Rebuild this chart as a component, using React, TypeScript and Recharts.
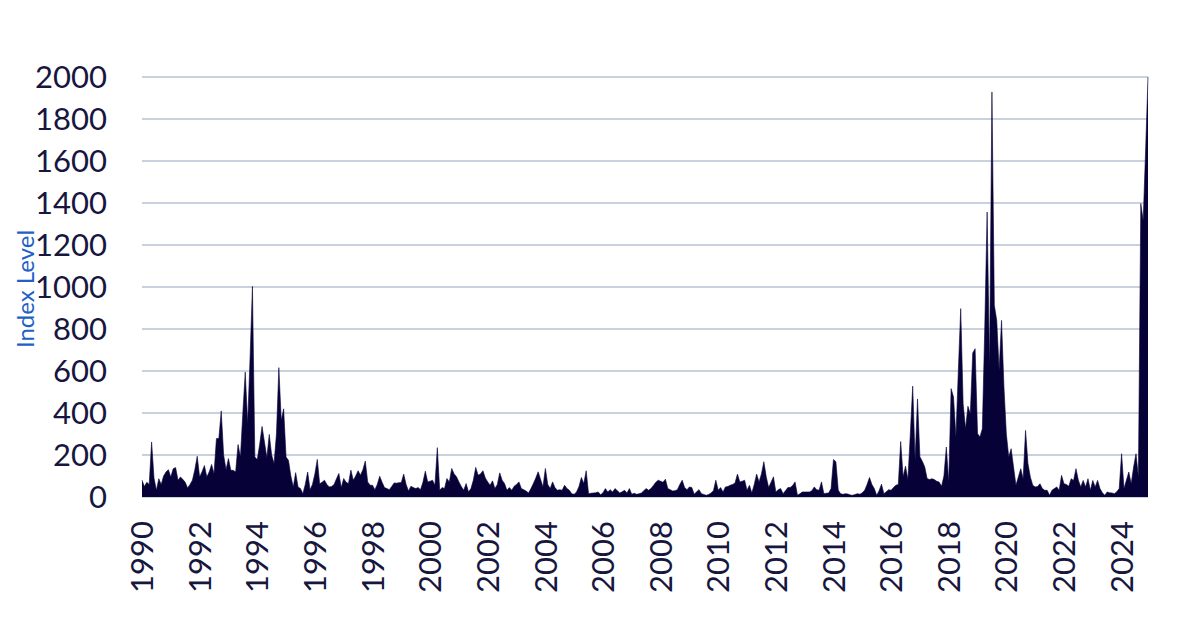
import { Area, AreaChart, CartesianGrid, XAxis, YAxis } from 'recharts'

// monthly index level, Jan..Dec, one row per year
const level1990s = [
  80, 50, 70, 60, 262, 90, 32, 87, 60, 100, 119, 130, // 1990
  95, 135, 140, 80, 95, 84, 70, 43, 60, 80, 130, 194, // 1991
  95, 120, 150, 95, 120, 155, 111, 278, 278, 410, 200, 130, // 1992
  183, 127, 127, 119, 250, 190, 400, 595, 349, 660, 1003, 190, // 1993
  178, 250, 336, 262, 187, 298, 200, 159, 300, 616, 365, 420, // 1994
]
const level1995s = [
  190, 175, 100, 48, 116, 48, 40, 16, 60, 119, 35, 60, // 1995
  110, 179, 63, 70, 80, 60, 48, 50, 60, 87, 112, 45, // 1996
  88, 70, 64, 128, 80, 100, 125, 104, 130, 171, 72, 56, // 1997
  56, 35, 60, 99, 70, 45, 40, 35, 50, 67, 66, 68, // 1998
  69, 109, 60, 29, 51, 45, 40, 45, 35, 70, 123, 72, // 1999
]
const level2000s = [
  75, 80, 56, 235, 32, 45, 40, 88, 72, 136, 110, 96, // 2000
  72, 50, 32, 64, 24, 40, 80, 141, 104, 110, 125, 90, // 2001
  72, 56, 77, 40, 60, 115, 80, 64, 32, 45, 32, 51, // 2002
  60, 72, 40, 35, 28, 19, 40, 64, 90, 120, 85, 48, // 2003
  136, 60, 40, 72, 45, 32, 35, 32, 56, 40, 32, 15, // 2004
]
const level2005s = [
  13, 24, 50, 93, 64, 125, 16, 18, 19, 20, 24, 11, // 2005
  20, 40, 24, 35, 24, 40, 30, 19, 25, 32, 19, 40, // 2006
  13, 18, 13, 15, 19, 30, 40, 32, 40, 55, 70, 80, // 2007
  75, 70, 85, 40, 35, 29, 30, 35, 60, 80, 45, 35, // 2008
  48, 45, 13, 25, 35, 16, 12, 8, 12, 19, 30, 80, // 2009
]
const level2010s = [
  32, 45, 24, 48, 50, 56, 60, 67, 109, 72, 75, 80, // 2010
  32, 56, 19, 60, 109, 72, 110, 168, 96, 45, 70, 96, // 2011
  24, 35, 40, 16, 30, 45, 45, 55, 72, 8, 15, 24, // 2012
  24, 24, 24, 30, 48, 35, 32, 72, 16, 18, 19, 40, // 2013
  179, 168, 32, 15, 13, 16, 14, 10, 8, 12, 16, 13, // 2014
]
const level2015s = [
  20, 32, 60, 93, 60, 40, 8, 30, 61, 16, 25, 35, // 2015
  32, 45, 56, 60, 264, 96, 147, 83, 300, 528, 176, 467, // 2016
  192, 170, 144, 88, 83, 87, 83, 75, 71, 51, 100, 238, // 2017
  71, 516, 476, 286, 600, 897, 444, 325, 432, 397, 686, 706, // 2018
  302, 286, 325, 800, 1357, 611, 1929, 913, 841, 603, 841, 524, // 2019
]
const level2020s = [
  300, 190, 230, 143, 56, 95, 135, 87, 317, 159, 95, 56, // 2020
  48, 50, 63, 40, 32, 32, 8, 32, 40, 48, 32, 103, // 2021
  63, 60, 51, 87, 79, 135, 80, 48, 79, 48, 87, 32, // 2022
  79, 48, 79, 40, 20, 8, 24, 20, 19, 16, 25, 40, // 2023
  206, 40, 80, 119, 63, 143, 206, 95, 1397, 1317, 1650, 2000, // 2024
]

const startYear = 1990
const yearTicks = [1990, 1992, 1994, 1996, 1998, 2000, 2002, 2004, 2006, 2008, 2010, 2012, 2014, 2016, 2018, 2020, 2022, 2024]
const levelTicks = [0, 200, 400, 600, 800, 1000, 1200, 1400, 1600, 1800, 2000]

const data = [level1990s, level1995s, level2000s, level2005s, level2010s, level2015s, level2020s]
  .flat()
  .map((v, i) => ({ t: startYear + i / 12, level: v }))

const NAVY = '#060238'
const TEXT = '#17163f'
const FONT = 'Lato, "Open Sans", sans-serif'

function YearTick(props: any) {
  const { x, y, payload } = props
  return (
    <text
      x={x}
      y={y}
      dy="0.36em"
      textAnchor="end"
      transform={`rotate(-90, ${x}, ${y})`}
      fontSize={31}
      fontFamily={FONT}
      fill={TEXT}
    >
      {payload.value}
    </text>
  )
}

export default function App() {
  return (
    <div style={{ position: 'absolute', left: 0, top: 0, width: 1200, height: 641, background: '#fff' }}>
      <AreaChart width={1200} height={641} data={data} margin={{ top: 77, right: 52, bottom: 44, left: 0 }}>
        <CartesianGrid vertical={false} stroke="#b6c2d2" strokeWidth={1.5} />
        <XAxis
          type="number"
          dataKey="t"
          domain={['dataMin', 'dataMax']}
          ticks={yearTicks}
          interval={0}
          tick={<YearTick />}
          axisLine={false}
          tickLine={false}
          tickSize={0}
          tickMargin={24}
          height={100}
        />
        <YAxis
          domain={[0, 2000]}
          ticks={levelTicks}
          interval={0}
          width={142}
          axisLine={false}
          tickLine={false}
          tickSize={0}
          tickMargin={35}
          tick={{ fontSize: 31, fill: TEXT, fontFamily: FONT }}
        />
        <Area
          type="linear"
          dataKey="level"
          stroke={NAVY}
          strokeWidth={0.6}
          fill={NAVY}
          fillOpacity={1}
          dot={false}
          activeDot={false}
          isAnimationActive={false}
        />
      </AreaChart>
      <div
        style={{
          position: 'absolute',
          left: 24,
          top: 289,
          transform: 'translate(-50%, -50%) rotate(-90deg)',
          whiteSpace: 'nowrap',
          fontFamily: FONT,
          fontSize: 24,
          color: '#2160c4',
        }}
      >
        Index Level
      </div>
    </div>
  )
}
